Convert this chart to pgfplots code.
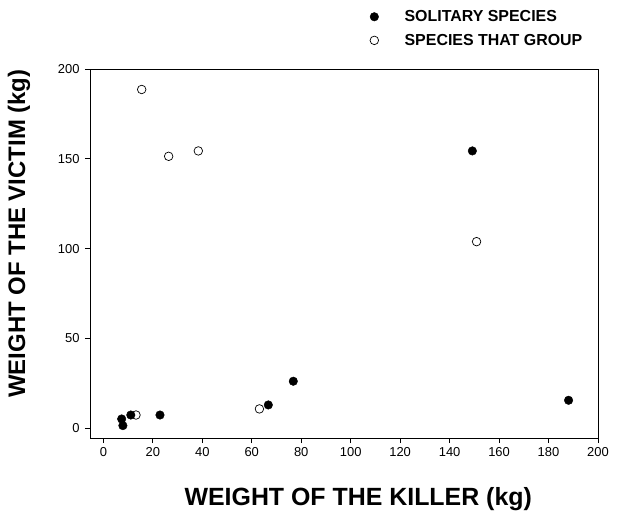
\documentclass[border=0pt]{standalone}
\usepackage{pgfplots}
\pgfplotsset{compat=1.18}
\usepackage{fontspec}
\setmainfont{Liberation Sans}
\begin{document}
\begin{tikzpicture}
\begin{axis}[
  scale only axis,
  width=508bp, height=369bp,
  xmin=-5.4, xmax=200, ymin=-5.4, ymax=200,
  xtick={0,20,...,200}, ytick={0,50,...,200},
  tick align=outside, tick pos=left,
  major tick length=5bp,
  /pgf/number format/assume math mode=true,
  tick label style={font=\fontsize{13}{13}\selectfont},
  xticklabel style={yshift=-1bp},
  yticklabel style={xshift=-2bp},
  axis line style={line width=0.8pt},
  every tick/.style={black, line width=0.8pt},
  xlabel={WEIGHT OF THE KILLER (kg)},
  ylabel={WEIGHT OF THE VICTIM (kg)},
  every axis x label/.style={at={(axis description cs:0.528,-0.165)},anchor=center,font=\bfseries\fontsize{25}{25}\selectfont},
  every axis y label/.style={at={(axis description cs:-0.14,0.554)},anchor=center,rotate=90,font=\bfseries\fontsize{24}{24}\selectfont},
  legend style={at={(axis description cs:0.545,1.17)}, anchor=north west, draw=none, fill=none,
    font=\bfseries\fontsize{16}{16}\selectfont, row sep=7bp,
    /tikz/every odd column/.append style={column sep=24bp}},
  legend cell align=left,
]
\addplot[only marks, mark=*, mark size=4.3pt, mark options={fill=black, draw=black}] coordinates {
  (7.4,5.2) (7.9,1.5) (11.1,7.4) (22.9,7.4) (66.7,13.0) (76.8,26.2) (149.2,154.4) (188.1,15.6)
};
\addlegendentry{SOLITARY SPECIES}
\addplot[only marks, mark=o, mark size=4.3pt, mark options={fill=white, draw=black, line width=0.7pt}] coordinates {
  (15.5,188.6) (26.4,151.4) (38.4,154.4) (150.9,103.9) (63.1,10.8) (13.2,7.4)
};
\addlegendentry{SPECIES THAT GROUP}
\coordinate (bl) at (rel axis cs:0,0);
\end{axis}
\path (bl) ++(-90bp,-72bp) rectangle ++(634bp,510bp);
\end{tikzpicture}
\end{document}
